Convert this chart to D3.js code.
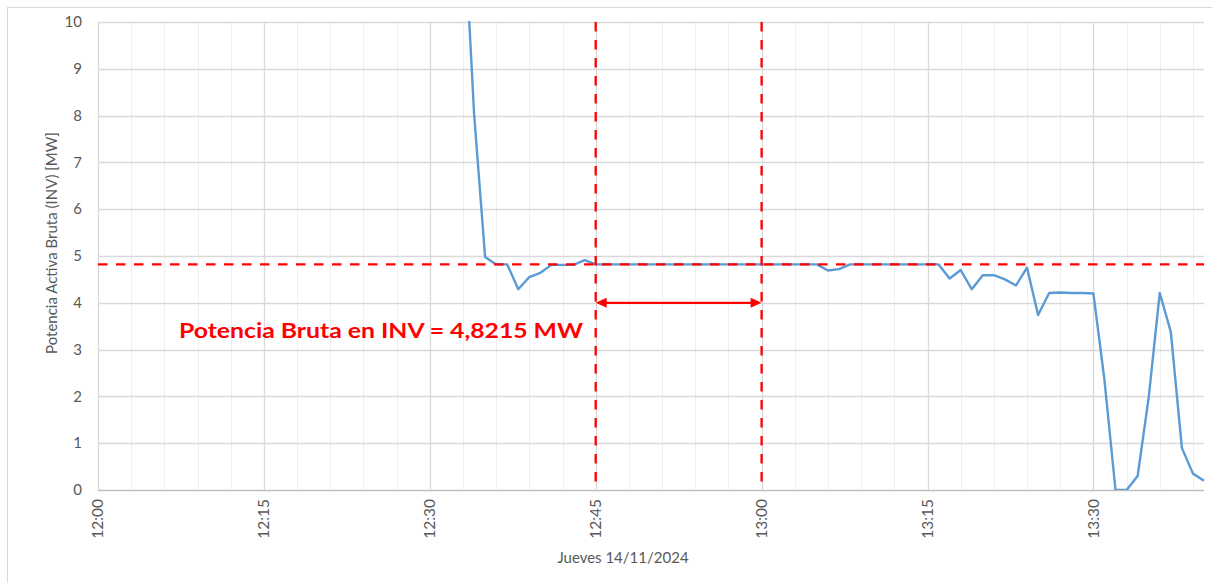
<!DOCTYPE html>
<html>
<head>
<meta charset="utf-8">
<script src="https://cdn.jsdelivr.net/npm/d3@7"></script>
<style>
  html, body { margin: 0; padding: 0; background: #ffffff; }
  svg { display: block; font-family: Lato, "Open Sans", "Liberation Sans", sans-serif; }
</style>
</head>
<body>
<svg id="chart" width="1212" height="583"></svg>
<script>
// ---- Data ----
const times = [
  "12:33","12:34","12:35","12:36","12:37","12:38","12:39","12:40","12:41","12:42",
  "12:43","12:44","12:45","12:46","12:47","12:48","12:49","12:50","12:51","12:52",
  "12:53","12:54","12:55","12:56","12:57","12:58","12:59","13:00","13:01","13:02",
  "13:03","13:04","13:05","13:06","13:07","13:08","13:09","13:10","13:11","13:12",
  "13:13","13:14","13:15","13:16","13:17","13:18","13:19","13:20","13:21","13:22",
  "13:23","13:24","13:25","13:26","13:27","13:28","13:29","13:30","13:31","13:32",
  "13:33","13:34","13:35","13:36","13:37","13:38","13:39","13:40"
];
const power = [
  12.6, 8.05, 4.98, 4.82, 4.82, 4.29, 4.55, 4.64, 4.81, 4.81,
  4.81, 4.91, 4.82, 4.82, 4.82, 4.82, 4.82, 4.82, 4.82, 4.82,
  4.82, 4.82, 4.82, 4.82, 4.82, 4.82, 4.82, 4.82, 4.82, 4.82,
  4.82, 4.82, 4.82, 4.69, 4.72, 4.82, 4.82, 4.82, 4.82, 4.82,
  4.82, 4.82, 4.82, 4.82, 4.52, 4.70, 4.29, 4.59, 4.59, 4.50,
  4.37, 4.75, 3.74, 4.21, 4.22, 4.21, 4.21, 4.20, 2.35, 0.00,
  0.00, 0.30, 1.98, 4.21, 3.38, 0.90, 0.35, 0.20
];
const xTickLabels = ["12:00","12:15","12:30","12:45","13:00","13:15","13:30"];
const yTicks = [0,1,2,3,4,5,6,7,8,9,10];
const refPower = 4.8215;                       // horizontal reference line
const windowStart = "12:45", windowEnd = "13:00"; // vertical reference lines
const arrowLevel = 4;
const annotation = "Potencia Bruta en INV = 4,8215 MW";
const yTitle = "Potencia Activa Bruta (INV) [MW]";
const xTitle = "Jueves 14/11/2024";
const xDomain = ["12:00", "13:40"];

(function draw() {
  const parse = d3.timeParse("%H:%M");
  const fmt = d3.timeFormat("%H:%M");
  const data = times.map((t, i) => ({ t: parse(t), v: power[i] }));

  const svg = d3.select("#chart");
  const pL = 98, pR = 1204, pT = 22, pB = 490;

  const x = d3.scaleTime().domain(xDomain.map(parse)).range([pL, pR]);
  const y = d3.scaleLinear().domain([0, 10]).range([pB, pT]);

  const textColor = "#595959";
  const fs = 15;

  // chart border
  svg.append("rect").attr("x", 7.5).attr("y", 7.5).attr("width", 1300).attr("height", 700)
    .attr("fill", "none").attr("stroke", "#d9d9d9").attr("stroke-width", 1);

  svg.append("defs").append("clipPath").attr("id", "plotclip")
    .append("rect").attr("x", pL).attr("y", pT - 1).attr("width", pR - pL + 2).attr("height", pB - pT + 1);

  // minor vertical gridlines every 3 minutes
  const minorTicks = d3.timeMinute.every(3).range(x.domain()[0], d3.timeMinute.offset(x.domain()[1], 1))
    .filter(d => d.getMinutes() % 15 !== 0);
  svg.append("g").selectAll("line").data(minorTicks).join("line")
    .attr("x1", d => Math.round(x(d)) + 0.5).attr("x2", d => Math.round(x(d)) + 0.5)
    .attr("y1", pT).attr("y2", pB)
    .attr("stroke", "#f0f0f0").attr("stroke-width", 1);

  // horizontal gridlines
  svg.append("g").selectAll("line").data(yTicks.filter(d => d > 0)).join("line")
    .attr("x1", pL).attr("x2", pR)
    .attr("y1", d => Math.round(y(d)) + 0.5).attr("y2", d => Math.round(y(d)) + 0.5)
    .attr("stroke", "#d9d9d9").attr("stroke-width", 1.3);

  // major vertical gridlines
  const majorTicks = xTickLabels.map(parse);
  svg.append("g").selectAll("line").data(majorTicks).join("line")
    .attr("x1", d => Math.round(x(d)) + 0.5).attr("x2", d => Math.round(x(d)) + 0.5)
    .attr("y1", pT).attr("y2", pB)
    .attr("stroke", "#d9d9d9").attr("stroke-width", 1.3);

  // x axis line
  svg.append("line").attr("x1", pL).attr("x2", pR)
    .attr("y1", Math.round(y(0)) + 0.5).attr("y2", Math.round(y(0)) + 0.5)
    .attr("stroke", "#bfbfbf").attr("stroke-width", 1.3);

  // y tick labels
  svg.append("g").selectAll("text").data(yTicks).join("text")
    .attr("x", 82).attr("y", d => y(d)).attr("dy", "0.35em")
    .attr("text-anchor", "end").attr("fill", textColor).attr("font-size", fs)
    .text(d => d);

  // x tick labels (rotated)
  svg.append("g").selectAll("text").data(majorTicks).join("text")
    .attr("transform", d => `translate(${x(d)},${pB + 9}) rotate(-90)`)
    .attr("dy", "0.35em").attr("text-anchor", "end")
    .attr("fill", textColor).attr("font-size", fs + 0.5)
    .text(d => fmt(d));

  // axis titles
  svg.append("text")
    .attr("transform", `translate(52,${(pT + pB) / 2 - 13}) rotate(-90)`)
    .attr("text-anchor", "middle").attr("dy", "0.35em")
    .attr("fill", textColor).attr("font-size", fs)
    .text(yTitle);
  svg.append("text")
    .attr("x", 623).attr("y", 558).attr("dy", "0.35em")
    .attr("text-anchor", "middle").attr("fill", textColor).attr("font-size", fs)
    .text(xTitle);

  // data line
  const line = d3.line().x(d => x(d.t)).y(d => y(d.v));
  svg.append("path").datum(data)
    .attr("clip-path", "url(#plotclip)")
    .attr("fill", "none").attr("stroke", "#5b9bd5").attr("stroke-width", 2.4)
    .attr("stroke-linejoin", "round")
    .attr("d", line);

  // red dashed reference lines
  const red = "#ff0000";
  svg.append("line")
    .attr("x1", pL).attr("x2", pR)
    .attr("y1", y(refPower)).attr("y2", y(refPower))
    .attr("stroke", red).attr("stroke-width", 2.3).attr("stroke-dasharray", "9.5,8.5");
  [windowStart, windowEnd].forEach(t => {
    svg.append("line")
      .attr("x1", x(parse(t))).attr("x2", x(parse(t)))
      .attr("y1", pT).attr("y2", pB)
      .attr("stroke", red).attr("stroke-width", 2.3).attr("stroke-dasharray", "9.5,8.5");
  });

  // double arrow
  const ax1 = x(parse(windowStart)), ax2 = x(parse(windowEnd)), ay = y(arrowLevel);
  svg.append("line").attr("x1", ax1 + 8).attr("x2", ax2 - 8).attr("y1", ay).attr("y2", ay)
    .attr("stroke", red).attr("stroke-width", 2.3);
  svg.append("path").attr("fill", red)
    .attr("d", `M${ax1},${ay} L${ax1 + 11},${ay - 5} L${ax1 + 11},${ay + 5} Z`);
  svg.append("path").attr("fill", red)
    .attr("d", `M${ax2},${ay} L${ax2 - 11},${ay - 5} L${ax2 - 11},${ay + 5} Z`);

  // annotation
  svg.append("text")
    .attr("x", 179).attr("y", 338)
    .attr("fill", red).attr("font-weight", "bold").attr("font-size", 20.5)
    .attr("textLength", 404).attr("lengthAdjust", "spacingAndGlyphs")
    .text(annotation);
})();
</script>
</body>
</html>
